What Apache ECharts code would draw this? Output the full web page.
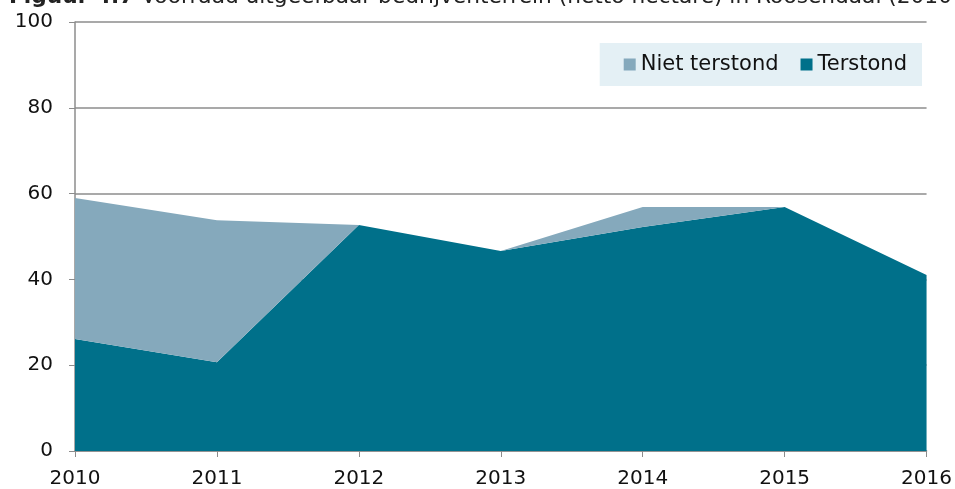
<!DOCTYPE html>
<html>
<head>
<meta charset="utf-8">
<script src="https://cdn.jsdelivr.net/npm/echarts@6/dist/echarts.min.js"></script>
<style>
  html, body { margin: 0; padding: 0; background: #fff; }
  #container { width: 955px; height: 489px; }
</style>
</head>
<body>
<div id="container"></div>
<script>
// jaren op de x-as
var years = ['2010', '2011', '2012', '2013', '2014', '2015', '2016'];
// netto hectare, gestapeld: terstond onderaan
var terstond = [26.1, 20.7, 52.7, 46.6, 52.2, 56.9, 41.0];
var nietTerstond = [32.9, 33.1, 0, 0, 4.7, 0, 0];
var legendNames = ['Niet terstond', 'Terstond'];

var dom = document.getElementById('container');
var myChart = echarts.init(dom);
var font = 'DejaVu Sans';

var option = {
  animation: false,
  textStyle: { fontFamily: font },
  title: {
    text: '{b|Figuur 4.7} Voorraad uitgeefbaar bedrijventerrein (netto hectare) in Roosendaal (2010-2016)',
    left: 9,
    top: -14,
    padding: 0,
    textStyle: {
      fontSize: 21.7,
      fontWeight: 'normal',
      color: '#222',
      rich: { b: { fontSize: 21.7, fontWeight: 'bold', color: '#222' } }
    }
  },
  legend: {
    data: legendNames,
    right: 33,
    top: 43,
    backgroundColor: '#e4f0f5',
    padding: [11, 15, 11, 24],
    itemWidth: 12,
    itemHeight: 12,
    itemGap: 22,
    icon: 'rect',
    textStyle: { fontSize: 21, color: '#111', fontFamily: font }
  },
  grid: { left: 75, right: 28, top: 22, bottom: 38 },
  xAxis: {
    type: 'category',
    boundaryGap: false,
    data: years,
    axisLine: { lineStyle: { color: '#8c8c8c', width: 1.5 } },
    axisTick: { show: true, length: 6, lineStyle: { color: '#8c8c8c' } },
    axisLabel: { fontSize: 20, color: '#111', margin: 18 }
  },
  yAxis: {
    type: 'value',
    min: 0,
    max: 100,
    interval: 20,
    axisLine: { show: true, lineStyle: { color: '#8c8c8c', width: 1.5 } },
    axisTick: { show: true, length: 6, lineStyle: { color: '#8c8c8c' } },
    axisLabel: { fontSize: 20, color: '#111', margin: 22 },
    splitLine: { lineStyle: { color: '#8c8c8c', width: 1.5 } }
  },
  series: [
    {
      name: 'Terstond',
      type: 'line',
      stack: 'totaal',
      data: terstond,
      symbol: 'none',
      lineStyle: { width: 0 },
      itemStyle: { color: '#00708a' },
      areaStyle: { color: '#00708a', opacity: 1 }
    },
    {
      name: 'Niet terstond',
      type: 'line',
      stack: 'totaal',
      data: nietTerstond,
      symbol: 'none',
      lineStyle: { width: 0 },
      itemStyle: { color: '#85a9bc' },
      areaStyle: { color: '#85a9bc', opacity: 1 }
    }
  ]
};
myChart.setOption(option);
</script>
</body>
</html>
